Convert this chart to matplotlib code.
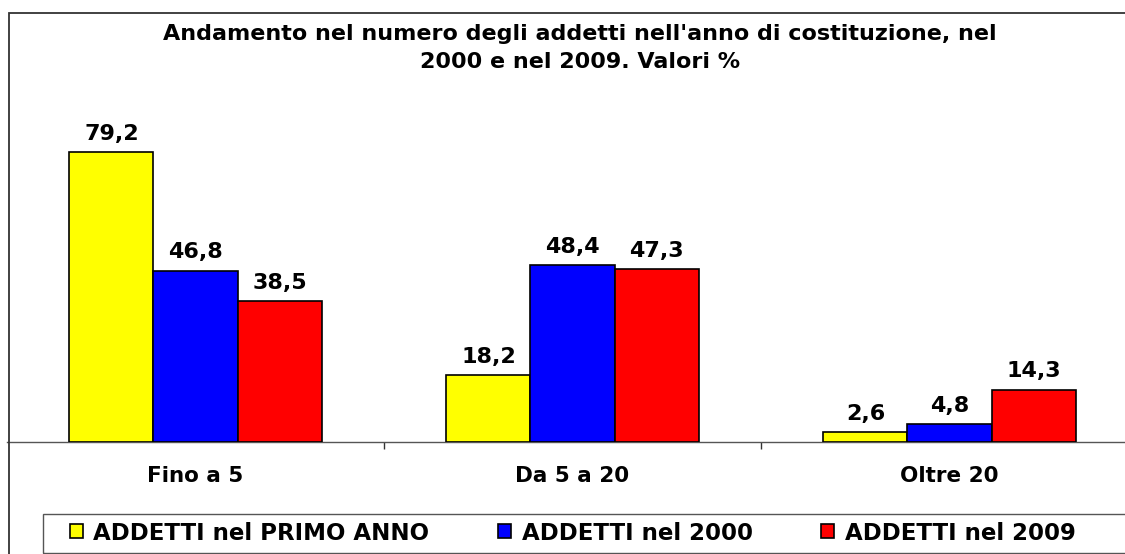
import matplotlib
matplotlib.use("Agg")
import matplotlib.pyplot as plt
import numpy as np
from matplotlib.patches import Rectangle, Patch

categories = ["Fino a 5", "Da 5 a 20", "Oltre 20"]
series = ["ADDETTI nel PRIMO ANNO", "ADDETTI nel 2000", "ADDETTI nel 2009"]
primo_anno = [79.2, 18.2, 2.6]
anno_2000 = [46.8, 48.4, 4.8]
anno_2009 = [38.5, 47.3, 14.3]
colors = ["#FFFF00", "#0000FF", "#FF0000"]
title = ("Andamento nel numero degli addetti nell'anno di costituzione, nel\n"
         "2000 e nel 2009. Valori %")

W, H = 1125, 554
fig = plt.figure(figsize=(W / 100, H / 100), dpi=100)
plt.rcParams['font.family'] = ['DejaVu Sans']

# plot area in pixels (extends past right edge, like the original)
left, right, bottom, top = 7, 7 + 3 * 377, 442, 100
ax = fig.add_axes([left / W, (H - bottom) / H, (right - left) / W, (bottom - top) / H])
ax.set_xlim(-0.5, 2.5)
ax.set_ylim(0, (bottom - top) / 3.66)

x = np.arange(len(categories))
bw = 0.223
for i, (vals, col) in enumerate(zip([primo_anno, anno_2000, anno_2009], colors)):
    bars = ax.bar(x + (i - 1) * bw, vals, bw, color=col, edgecolor="black",
                  linewidth=1.2, zorder=3)
    for b, v in zip(bars, vals):
        ax.annotate(f"{v:.1f}".replace(".", ","),
                    (b.get_x() + b.get_width() / 2, v),
                    xytext=(0, 6), textcoords="offset points",
                    ha="center", va="bottom", fontsize=16, fontweight="bold")

for s in ["top", "left", "right"]:
    ax.spines[s].set_visible(False)
ax.spines["bottom"].set_color("#555555")
ax.spines["bottom"].set_linewidth(1.0)
ax.set_yticks([])
ax.set_xticks(x)
ax.set_xticklabels(categories, fontsize=15.5, fontweight="bold")
ax.tick_params(axis="x", which="major", length=0, pad=17)
ax.set_xticks([0.5, 1.5], minor=True)
ax.tick_params(axis="x", which="minor", length=5, width=1, color="#333333", direction="out")

fig.text(580 / W, 1 - 24 / H, title, ha="center", va="top", fontsize=16,
         fontweight="bold", linespacing=1.5)

# outer border of the chart area
fig.patches.append(Rectangle((9 / W, -0.1), 1.2, 1 - 13 / H + 0.1,
                             transform=fig.transFigure, fill=False,
                             edgecolor="#333333", linewidth=1.3))
# legend box
fig.patches.append(Rectangle((43 / W, 1 - 553 / H), 1.2, 39 / H,
                             transform=fig.transFigure, fill=False,
                             edgecolor="#555555", linewidth=1.0))

handles = [Patch(facecolor=c, edgecolor="black", linewidth=1.2) for c in colors]
fig.legend(handles, series, loc="center left", bbox_to_anchor=(70 / W, 1 - 533 / H),
           ncol=3, frameon=False, prop={"size": 16.5, "weight": "bold"},
           handlelength=0.57, handleheight=0.57, handletextpad=0.45,
           columnspacing=3.0, borderaxespad=0, borderpad=0)

fig.savefig("out.png", dpi=100)
